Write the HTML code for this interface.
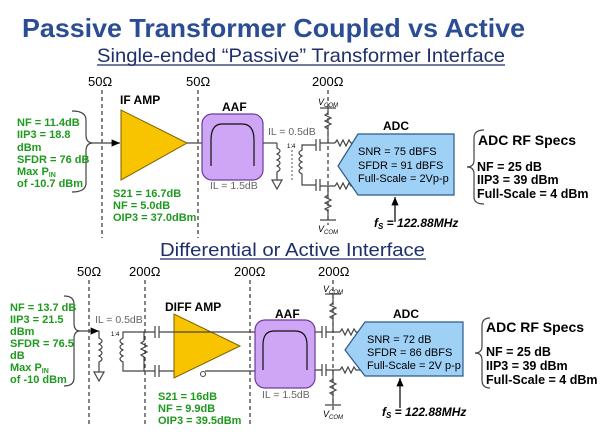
<!DOCTYPE html>
<html><head><meta charset="utf-8"><style>
html,body{margin:0;padding:0;background:#fff;}
svg{display:block;font-family:"Liberation Sans",Arial,sans-serif;}
.g{fill:#1e9a1e;font-weight:bold;font-size:11px;}
.k{fill:#000;font-size:11px;}
.gr{fill:#666;font-size:10.5px;}
.b{fill:#000;font-weight:bold;}
.d{stroke:#333;stroke-width:1.2;stroke-dasharray:4,3;fill:none;}
.w{stroke:#444;stroke-width:1.2;fill:none;}
</style></head><body>
<svg width="600" height="434" viewBox="0 0 600 434">
<defs>
<marker id="ar" markerWidth="8" markerHeight="8" refX="7" refY="4" orient="auto"><path d="M0,1 L7,4 L0,7z" fill="#000"/></marker>
</defs>
<text x="22" y="37" font-size="26" font-weight="bold" fill="#2a4d94" textLength="503" lengthAdjust="spacingAndGlyphs">Passive Transformer Coupled vs Active</text>
<text x="97" y="62" font-size="19.5" fill="#1f2f6a" textLength="408" lengthAdjust="spacingAndGlyphs">Single-ended “Passive” Transformer Interface</text>
<line x1="97" y1="65" x2="505" y2="65" stroke="#1f2f6a" stroke-width="1.2"/>

<!-- TOP -->
<text x="88" y="86" font-size="13">50Ω</text>
<text x="186" y="86" font-size="13">50Ω</text>
<text x="312" y="86" font-size="13">200Ω</text>
<line class="d" x1="102" y1="90" x2="102" y2="238"/>
<line class="d" x1="198" y1="90" x2="198" y2="238"/>
<line class="d" x1="328" y1="90" x2="328" y2="225"/>
<path class="w" d="M72,111 Q86,111 86,120 L86,135 Q86,143 93,143 Q86,143 86,151 L86,183 Q86,192 72,192"/>
<g class="g"><text x="17" y="126">NF = 11.4dB</text><text x="17" y="138">IIP3 = 18.8</text><text x="17" y="151">dBm</text><text x="17" y="163">SFDR = 76 dB</text><text x="17" y="175">Max P<tspan font-size="7" dy="2">IN</tspan></text><text x="17" y="187">of -10.7 dBm</text></g>
<line class="w" x1="93" y1="143" x2="120" y2="143" marker-end="url(#ar)"/>
<polygon points="121,110 121,180 187,143" fill="#f8c400" stroke="#7a6000" stroke-width="1"/>
<text x="120" y="104" font-size="12" class="b">IF AMP</text>
<line class="w" x1="187" y1="143" x2="203" y2="143"/>
<rect x="202" y="114" width="61" height="66" rx="10" fill="#cfa6f5" stroke="#6a3c9a" stroke-width="1.2"/>
<path d="M211,166 L211,140 Q211,124 222,124 L242,124 Q254,124 254,140 L254,166" fill="none" stroke="#111" stroke-width="1.2"/>
<text x="222" y="111" font-size="12" class="b">AAF</text>
<text x="210" y="189" class="gr">IL = 1.5dB</text>
<g class="g"><text x="113" y="197">S21 = 16.7dB</text><text x="113" y="209">NF = 5.0dB</text><text x="113" y="221">OIP3 = 37.0dBm</text></g>
<line class="w" x1="263" y1="143" x2="277" y2="143"/>
<text x="268" y="135" class="gr">IL = 0.5dB</text>
<path class="w" d="M277,143 L277,148 q6,3 0,6 q6,3 0,6 q6,3 0,6 q6,3 0,6 L277,180 M272,180 h10 l-5,9 z"/>
<text x="287" y="148" font-size="6">1:4</text>
<path class="w" d="M308,145 L302,145 L302,150 q-6,3 0,6 q-6,3 0,6 q-6,3 0,6 q-6,3 0,6 L302,185 L308,185"/>
<line x1="292" y1="150" x2="292" y2="180" stroke="#555" stroke-width="1" stroke-dasharray="2,2"/>
<path class="w" d="M308,145 L316,145 M316,139 v12 M320,139 v12 M320,143 L335,143 M308,185 L316,185 M316,179 v12 M320,179 v12 M320,186 L335,186"/>
<path class="w" d="M335,143 l2,-3 l3,6 l3,-6 l3,6 l3,-6 l2,3 L358,143 M335,186 l2,-3 l3,6 l3,-6 l3,6 l3,-6 l2,3 L358,186"/>
<path class="w" d="M320,108 L336,108 M328,108 L328,113 l-3,2 l6,3 l-6,3 l6,3 l-6,3 l3,2 L328,143 M328,186 L328,195 l-3,2 l6,3 l-6,3 l6,3 l-6,3 l3,2 L328,220 M320,220 L336,220"/>
<text x="318" y="105" font-size="9" font-style="italic">V<tspan font-size="6" dy="2">COM</tspan></text>
<text x="318" y="232" font-size="9" font-style="italic">V<tspan font-size="6" dy="2">COM</tspan></text>
<polygon points="358,134 454,134 454,195 358,195 338,166" fill="#9fd0f6" stroke="#2a5a8a" stroke-width="1.2"/>
<text x="383" y="130" font-size="12" class="b">ADC</text>
<g class="k"><text x="358" y="155">SNR = 75 dBFS</text><text x="358" y="169">SFDR = 91 dBFS</text><text x="358" y="182">Full-Scale = 2Vp-p</text></g>
<line x1="395" y1="222" x2="395" y2="197" stroke="#000" stroke-width="1.2" marker-end="url(#ar)"/>
<text x="374" y="227" font-size="12" font-style="italic" font-weight="bold">f<tspan font-size="8" dy="2">S</tspan><tspan dy="-2"> = 122.88MHz</tspan></text>
<path class="w" d="M484,130 Q474,130 474,138 L474,160 Q474,167 467,167 Q474,167 474,174 L474,197 Q474,204 484,204"/>
<text x="478" y="145" font-size="14" class="b">ADC RF Specs</text>
<g class="b" font-size="12.5"><text x="477" y="171">NF = 25 dB</text><text x="477" y="184">IIP3 = 39 dBm</text><text x="477" y="198">Full-Scale = 4 dBm</text></g>

<!-- BOTTOM -->
<text x="160" y="256" font-size="18" fill="#1f2f6a" textLength="265" lengthAdjust="spacingAndGlyphs">Differential or Active Interface</text>
<line x1="160" y1="259" x2="426" y2="259" stroke="#1f2f6a" stroke-width="1.2"/>
<text x="77" y="276" font-size="13">50Ω</text>
<text x="129" y="276" font-size="13">200Ω</text>
<text x="234" y="276" font-size="13">200Ω</text>
<text x="318" y="276" font-size="13">200Ω</text>
<line class="d" x1="89" y1="280" x2="89" y2="425"/>
<line class="d" x1="145" y1="280" x2="145" y2="425"/>
<line class="d" x1="250" y1="280" x2="250" y2="425"/>
<line class="d" x1="333" y1="280" x2="333" y2="413"/>
<path class="w" d="M64,296 Q74,296 74,304 L74,323 Q74,331 80,331 Q74,331 74,339 L74,378 Q74,386 64,386"/>
<g class="g"><text x="10" y="311">NF = 13.7 dB</text><text x="10" y="323">IIP3 = 21.5</text><text x="10" y="335">dBm</text><text x="10" y="347">SFDR = 76.5</text><text x="10" y="359">dB</text><text x="10" y="371">Max P<tspan font-size="7" dy="2">IN</tspan></text><text x="10" y="383">of -10 dBm</text></g>
<line class="w" x1="80" y1="331" x2="99" y2="331" marker-end="url(#ar)"/>
<text x="95" y="323" class="gr">IL = 0.5dB</text>
<path class="w" d="M99,331 L99,338 q6,3 0,6 q6,3 0,6 q6,3 0,6 q6,3 0,6 L99,372 M94,372 h10 l-5,9 z"/>
<text x="111" y="336" font-size="6">1:4</text>
<path class="w" d="M130,332 L123,332 L123,338 q-6,3 0,6 q-6,3 0,6 q-6,3 0,6 q-6,3 0,6 L123,371 L130,371"/>
<path class="w" d="M130,332 L155,332 M155,326 v12 M159,326 v12 M159,332 L174,332 M130,371 L155,371 M155,365 v12 M159,365 v12 M159,371 L174,371"/>
<path class="w" d="M144,332 L144,341 l-3,2 l6,3 l-6,3 l6,3 l-6,3 l3,2 L144,371"/>
<polygon points="174,314 174,378 240,346" fill="#f8c400" stroke="#7a6000" stroke-width="1"/>
<circle cx="203" cy="374" r="2.5" fill="#fff" stroke="#444"/>
<text x="165" y="311" font-size="12" class="b">DIFF AMP</text>
<path class="w" d="M174,332 L255,332 M205,371 L255,371"/>
<g class="g"><text x="158" y="400">S21 = 16dB</text><text x="158" y="412">NF = 9.9dB</text><text x="158" y="424">OIP3 = 39.5dBm</text></g>
<rect x="255" y="320" width="60" height="68" rx="10" fill="#cfa6f5" stroke="#6a3c9a" stroke-width="1.2"/>
<path d="M263,370 L263,345 Q263,331 274,331 L295,331 Q307,331 307,345 L307,370" fill="none" stroke="#111" stroke-width="1.2"/>
<text x="275" y="318" font-size="12" class="b">AAF</text>
<text x="262" y="398" class="gr">IL = 1.5dB</text>
<path class="w" d="M315,332 L322,332 M322,326 v12 M326,326 v12 M326,332 L340,332 M315,370 L322,370 M322,364 v12 M326,364 v12 M326,370 L340,370"/>
<path class="w" d="M340,332 l2,-3 l3,6 l3,-6 l3,6 l3,-6 l2,3 L365,332 M340,370 l2,-3 l3,6 l3,-6 l3,6 l3,-6 l2,3 L365,370"/>
<path class="w" d="M325,294 L341,294 M333,294 L333,303 l-3,2 l6,3 l-6,3 l6,3 l-6,3 l3,2 L333,332 M333,370 L333,379 l-3,2 l6,3 l-6,3 l6,3 l-6,3 l3,2 L333,405 M325,405 L341,405"/>
<text x="323" y="292" font-size="9" font-style="italic">V<tspan font-size="6" dy="2">COM</tspan></text>
<text x="323" y="417" font-size="9" font-style="italic">V<tspan font-size="6" dy="2">COM</tspan></text>
<polygon points="365,322 463,322 463,376 365,376 345,350" fill="#9fd0f6" stroke="#2a5a8a" stroke-width="1.2"/>
<text x="393" y="318" font-size="12" class="b">ADC</text>
<g class="k"><text x="367" y="343">SNR = 72 dB</text><text x="367" y="356">SFDR = 86 dBFS</text><text x="367" y="369">Full-Scale = 2V p-p</text></g>
<line x1="400" y1="408" x2="400" y2="378" stroke="#000" stroke-width="1.2" marker-end="url(#ar)"/>
<text x="382" y="416" font-size="12" font-style="italic" font-weight="bold">f<tspan font-size="8" dy="2">S</tspan><tspan dy="-2"> = 122.88MHz</tspan></text>
<path class="w" d="M490,318 Q482,318 482,326 L482,346 Q482,353 475,353 Q482,353 482,360 L482,380 Q482,388 490,388"/>
<text x="486" y="332" font-size="14" class="b">ADC RF Specs</text>
<g class="b" font-size="12.5"><text x="486" y="356">NF = 25 dB</text><text x="486" y="370">IIP3 = 39 dBm</text><text x="486" y="384">Full-Scale = 4 dBm</text></g>
</svg>
</body></html>
